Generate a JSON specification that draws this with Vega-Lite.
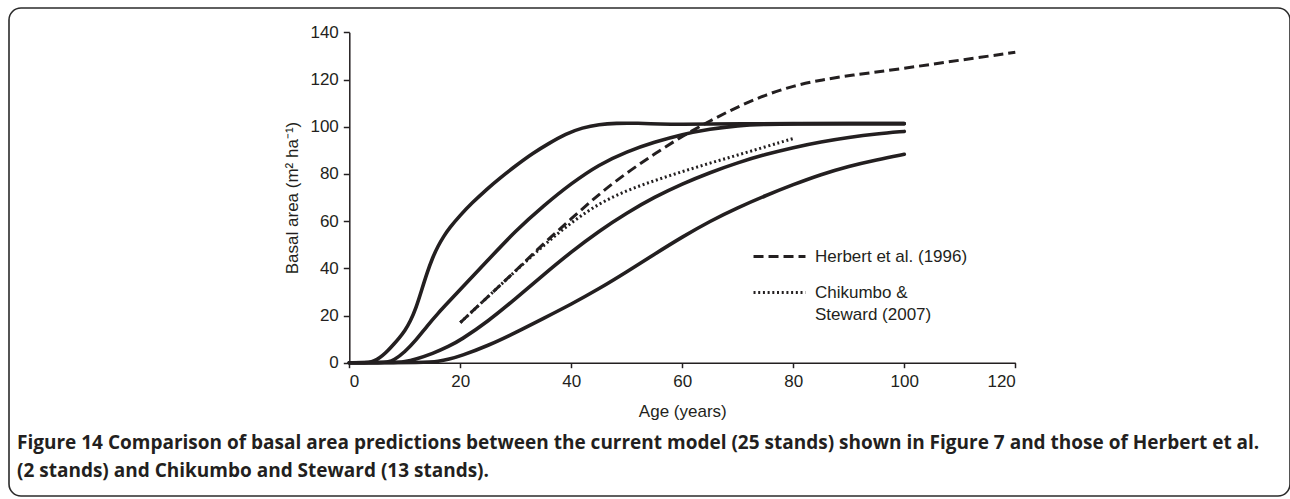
{
  "$schema": "https://vega.github.io/schema/vega-lite/v6.json",
  "width": 1281,
  "height": 488,
  "autosize": {"type": "none"},
  "padding": {"left": 9, "top": 8, "right": 0, "bottom": 3},
  "background": "white",
  "config": {
    "view": {"stroke": "#2b2b2b", "strokeWidth": 1.6, "cornerRadius": 12},
    "font": "Liberation Sans",
    "axis": {
      "grid": false,
      "domainColor": "#231f20",
      "domainWidth": 1.5,
      "tickColor": "#231f20",
      "tickWidth": 1.5,
      "labelFont": "Liberation Sans",
      "labelFontSize": 17,
      "labelColor": "#231f20",
      "titleFont": "Liberation Sans",
      "titleFontSize": 17,
      "titleFontWeight": "normal",
      "titleColor": "#231f20"
    }
  },
  "title": {
    "text": [
      "Figure 14 Comparison of basal area predictions between the current model (25 stands) shown in Figure 7 and those of Herbert et al.",
      "(2 stands) and Chikumbo and Steward (13 stands)."
    ],
    "orient": "bottom",
    "anchor": "start",
    "frame": "group",
    "offset": -62,
    "dx": 8,
    "baseline": "top",
    "font": "Open Sans",
    "fontSize": 19,
    "fontWeight": "bold",
    "color": "#231f20",
    "lineHeight": 28
  },
  "data": {
    "values": [
      {"curve": "A", "source": "model", "age": 0, "ba": 0},
      {"curve": "A", "source": "model", "age": 3, "ba": 0},
      {"curve": "A", "source": "model", "age": 4, "ba": 0.3},
      {"curve": "A", "source": "model", "age": 5, "ba": 1.3},
      {"curve": "A", "source": "model", "age": 6, "ba": 3},
      {"curve": "A", "source": "model", "age": 7, "ba": 5.2},
      {"curve": "A", "source": "model", "age": 8, "ba": 7.8},
      {"curve": "A", "source": "model", "age": 9, "ba": 10.5},
      {"curve": "A", "source": "model", "age": 10, "ba": 13.5},
      {"curve": "A", "source": "model", "age": 11, "ba": 17.5},
      {"curve": "A", "source": "model", "age": 12, "ba": 23},
      {"curve": "A", "source": "model", "age": 13, "ba": 30.5},
      {"curve": "A", "source": "model", "age": 14, "ba": 38},
      {"curve": "A", "source": "model", "age": 15, "ba": 44.5},
      {"curve": "A", "source": "model", "age": 16, "ba": 49.5},
      {"curve": "A", "source": "model", "age": 17, "ba": 53.5},
      {"curve": "A", "source": "model", "age": 18, "ba": 57},
      {"curve": "A", "source": "model", "age": 20, "ba": 62.5},
      {"curve": "A", "source": "model", "age": 22, "ba": 67.5},
      {"curve": "A", "source": "model", "age": 25, "ba": 74},
      {"curve": "A", "source": "model", "age": 27, "ba": 78},
      {"curve": "A", "source": "model", "age": 30, "ba": 83.5},
      {"curve": "A", "source": "model", "age": 33, "ba": 88.7},
      {"curve": "A", "source": "model", "age": 36, "ba": 93},
      {"curve": "A", "source": "model", "age": 39, "ba": 97},
      {"curve": "A", "source": "model", "age": 42, "ba": 99.6},
      {"curve": "A", "source": "model", "age": 45, "ba": 101},
      {"curve": "A", "source": "model", "age": 48, "ba": 101.5},
      {"curve": "A", "source": "model", "age": 52, "ba": 101.5},
      {"curve": "A", "source": "model", "age": 56, "ba": 101.1},
      {"curve": "A", "source": "model", "age": 60, "ba": 101},
      {"curve": "A", "source": "model", "age": 65, "ba": 101.1},
      {"curve": "A", "source": "model", "age": 70, "ba": 101.3},
      {"curve": "A", "source": "model", "age": 80, "ba": 101.3},
      {"curve": "A", "source": "model", "age": 90, "ba": 101.3},
      {"curve": "A", "source": "model", "age": 100, "ba": 101.3},

      {"curve": "B", "source": "model", "age": 0, "ba": 0},
      {"curve": "B", "source": "model", "age": 6, "ba": 0},
      {"curve": "B", "source": "model", "age": 7, "ba": 0.3},
      {"curve": "B", "source": "model", "age": 8, "ba": 1},
      {"curve": "B", "source": "model", "age": 10, "ba": 4.5},
      {"curve": "B", "source": "model", "age": 12, "ba": 9.5},
      {"curve": "B", "source": "model", "age": 14, "ba": 15.5},
      {"curve": "B", "source": "model", "age": 16, "ba": 21},
      {"curve": "B", "source": "model", "age": 18, "ba": 26},
      {"curve": "B", "source": "model", "age": 20, "ba": 31},
      {"curve": "B", "source": "model", "age": 25, "ba": 43.5},
      {"curve": "B", "source": "model", "age": 30, "ba": 56},
      {"curve": "B", "source": "model", "age": 35, "ba": 66.5},
      {"curve": "B", "source": "model", "age": 40, "ba": 76},
      {"curve": "B", "source": "model", "age": 45, "ba": 84},
      {"curve": "B", "source": "model", "age": 50, "ba": 89.5},
      {"curve": "B", "source": "model", "age": 55, "ba": 93.5},
      {"curve": "B", "source": "model", "age": 60, "ba": 96.8},
      {"curve": "B", "source": "model", "age": 65, "ba": 99},
      {"curve": "B", "source": "model", "age": 70, "ba": 100.5},
      {"curve": "B", "source": "model", "age": 75, "ba": 101},
      {"curve": "B", "source": "model", "age": 80, "ba": 101.2},
      {"curve": "B", "source": "model", "age": 90, "ba": 101.3},
      {"curve": "B", "source": "model", "age": 100, "ba": 101.3},

      {"curve": "C", "source": "model", "age": 0, "ba": 0},
      {"curve": "C", "source": "model", "age": 8, "ba": 0},
      {"curve": "C", "source": "model", "age": 10, "ba": 0.4},
      {"curve": "C", "source": "model", "age": 12, "ba": 1.5},
      {"curve": "C", "source": "model", "age": 15, "ba": 3.8},
      {"curve": "C", "source": "model", "age": 18, "ba": 7},
      {"curve": "C", "source": "model", "age": 20, "ba": 9.5},
      {"curve": "C", "source": "model", "age": 25, "ba": 17.5},
      {"curve": "C", "source": "model", "age": 30, "ba": 27.2},
      {"curve": "C", "source": "model", "age": 35, "ba": 37.3},
      {"curve": "C", "source": "model", "age": 40, "ba": 47},
      {"curve": "C", "source": "model", "age": 45, "ba": 55.8},
      {"curve": "C", "source": "model", "age": 50, "ba": 63.5},
      {"curve": "C", "source": "model", "age": 55, "ba": 70.2},
      {"curve": "C", "source": "model", "age": 60, "ba": 75.8},
      {"curve": "C", "source": "model", "age": 65, "ba": 80.6},
      {"curve": "C", "source": "model", "age": 70, "ba": 84.8},
      {"curve": "C", "source": "model", "age": 75, "ba": 88.3},
      {"curve": "C", "source": "model", "age": 80, "ba": 91.2},
      {"curve": "C", "source": "model", "age": 85, "ba": 93.6},
      {"curve": "C", "source": "model", "age": 90, "ba": 95.5},
      {"curve": "C", "source": "model", "age": 95, "ba": 97},
      {"curve": "C", "source": "model", "age": 100, "ba": 98},

      {"curve": "D", "source": "model", "age": 0, "ba": 0},
      {"curve": "D", "source": "model", "age": 14, "ba": 0},
      {"curve": "D", "source": "model", "age": 16, "ba": 0.5},
      {"curve": "D", "source": "model", "age": 18, "ba": 1.5},
      {"curve": "D", "source": "model", "age": 20, "ba": 2.8},
      {"curve": "D", "source": "model", "age": 25, "ba": 7.2},
      {"curve": "D", "source": "model", "age": 30, "ba": 12.8},
      {"curve": "D", "source": "model", "age": 35, "ba": 18.8},
      {"curve": "D", "source": "model", "age": 40, "ba": 24.8},
      {"curve": "D", "source": "model", "age": 45, "ba": 31.3},
      {"curve": "D", "source": "model", "age": 50, "ba": 38.5},
      {"curve": "D", "source": "model", "age": 55, "ba": 46},
      {"curve": "D", "source": "model", "age": 60, "ba": 53.3},
      {"curve": "D", "source": "model", "age": 65, "ba": 60},
      {"curve": "D", "source": "model", "age": 70, "ba": 65.7},
      {"curve": "D", "source": "model", "age": 75, "ba": 70.8},
      {"curve": "D", "source": "model", "age": 80, "ba": 75.5},
      {"curve": "D", "source": "model", "age": 85, "ba": 79.8},
      {"curve": "D", "source": "model", "age": 90, "ba": 83.3},
      {"curve": "D", "source": "model", "age": 95, "ba": 86},
      {"curve": "D", "source": "model", "age": 100, "ba": 88.3},

      {"curve": "H", "source": "Herbert et al. (1996)", "age": 20, "ba": 17},
      {"curve": "H", "source": "Herbert et al. (1996)", "age": 25, "ba": 28},
      {"curve": "H", "source": "Herbert et al. (1996)", "age": 30, "ba": 39},
      {"curve": "H", "source": "Herbert et al. (1996)", "age": 35, "ba": 50.5},
      {"curve": "H", "source": "Herbert et al. (1996)", "age": 40, "ba": 61},
      {"curve": "H", "source": "Herbert et al. (1996)", "age": 45, "ba": 71.5},
      {"curve": "H", "source": "Herbert et al. (1996)", "age": 50, "ba": 80.5},
      {"curve": "H", "source": "Herbert et al. (1996)", "age": 55, "ba": 88.5},
      {"curve": "H", "source": "Herbert et al. (1996)", "age": 60, "ba": 96},
      {"curve": "H", "source": "Herbert et al. (1996)", "age": 65, "ba": 102.5},
      {"curve": "H", "source": "Herbert et al. (1996)", "age": 70, "ba": 108.5},
      {"curve": "H", "source": "Herbert et al. (1996)", "age": 75, "ba": 113.5},
      {"curve": "H", "source": "Herbert et al. (1996)", "age": 80, "ba": 117.3},
      {"curve": "H", "source": "Herbert et al. (1996)", "age": 85, "ba": 119.8},
      {"curve": "H", "source": "Herbert et al. (1996)", "age": 90, "ba": 121.7},
      {"curve": "H", "source": "Herbert et al. (1996)", "age": 100, "ba": 124.7},
      {"curve": "H", "source": "Herbert et al. (1996)", "age": 110, "ba": 128.2},
      {"curve": "H", "source": "Herbert et al. (1996)", "age": 120, "ba": 131.5},

      {"curve": "S", "source": "Chikumbo & Steward (2007)", "age": 20, "ba": 17},
      {"curve": "S", "source": "Chikumbo & Steward (2007)", "age": 25, "ba": 28},
      {"curve": "S", "source": "Chikumbo & Steward (2007)", "age": 30, "ba": 39},
      {"curve": "S", "source": "Chikumbo & Steward (2007)", "age": 35, "ba": 49.7},
      {"curve": "S", "source": "Chikumbo & Steward (2007)", "age": 40, "ba": 59.5},
      {"curve": "S", "source": "Chikumbo & Steward (2007)", "age": 45, "ba": 67.5},
      {"curve": "S", "source": "Chikumbo & Steward (2007)", "age": 50, "ba": 73},
      {"curve": "S", "source": "Chikumbo & Steward (2007)", "age": 55, "ba": 77.2},
      {"curve": "S", "source": "Chikumbo & Steward (2007)", "age": 60, "ba": 81},
      {"curve": "S", "source": "Chikumbo & Steward (2007)", "age": 65, "ba": 84.6},
      {"curve": "S", "source": "Chikumbo & Steward (2007)", "age": 70, "ba": 88},
      {"curve": "S", "source": "Chikumbo & Steward (2007)", "age": 75, "ba": 91.5},
      {"curve": "S", "source": "Chikumbo & Steward (2007)", "age": 80, "ba": 95}
    ]
  },
  "encoding": {
    "x": {
      "field": "age",
      "type": "quantitative",
      "scale": {"domain": [0, 120], "nice": false, "range": [340.3, 1006.3]},
      "axis": {
        "title": "Age (years)",
        "values": [0, 20, 40, 60, 80, 100, 120],
        "tickSize": 5,
        "labelPadding": 6,
        "offset": -133.3,
        "titlePadding": 14
      }
    },
    "y": {
      "field": "ba",
      "type": "quantitative",
      "scale": {"domain": [0, 140], "nice": false, "range": [354.7, 24.3]},
      "axis": {
        "title": "Basal area (m² ha⁻¹)",
        "values": [0, 20, 40, 60, 80, 100, 120, 140],
        "tickSize": 6,
        "labelPadding": 5,
        "offset": -340.3,
        "titlePadding": 8
      }
    }
  },
  "layer": [
    {
      "transform": [{"filter": "datum.source === 'model'"}],
      "mark": {"type": "line", "color": "#231f20", "strokeWidth": 3.6, "interpolate": "basis", "strokeCap": "round"},
      "encoding": {
        "detail": {"field": "curve", "type": "nominal"}
      }
    },
    {
      "transform": [{"filter": "datum.source !== 'model'"}],
      "mark": {"type": "line", "color": "#231f20", "strokeWidth": 3, "interpolate": "basis"},
      "encoding": {
        "strokeDash": {
          "field": "source",
          "type": "nominal",
          "scale": {
            "domain": ["Herbert et al. (1996)", "Chikumbo & Steward (2007)"],
            "range": [[10, 5], [2, 2.7]]
          },
          "legend": {
            "title": null,
            "orient": "none",
            "legendX": 743,
            "legendY": 221,
            "padding": 0,
            "symbolType": "stroke",
            "symbolSize": 2700,
            "symbolStrokeWidth": 3,
            "symbolStrokeColor": "#231f20",
            "labelFont": "Liberation Sans",
            "labelFontSize": 17,
            "labelColor": "#231f20",
            "labelOffset": 8,
            "labelLimit": 0,
            "rowPadding": -3,
            "labelExpr": "datum.label === 'Chikumbo & Steward (2007)' ? ['Chikumbo &', 'Steward (2007)'] : datum.label",
            "encode": {
              "labels": {
                "update": {
                  "lineHeight": {"value": 22}
                }
              }
            }
          }
        }
      }
    }
  ]
}
